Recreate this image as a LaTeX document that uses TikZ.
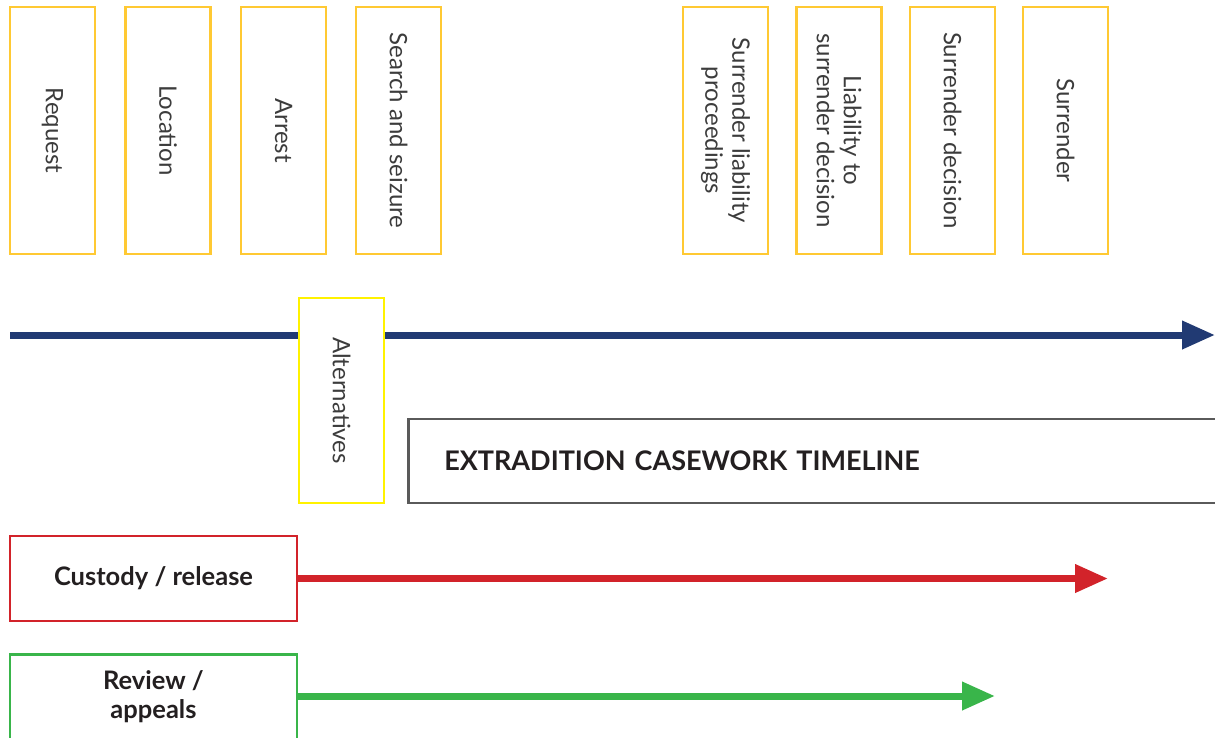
\documentclass[tikz,border=0pt]{standalone}
\usepackage{fontspec}
\setmainfont{Lato}
\usetikzlibrary{arrows.meta}
\usetikzlibrary{positioning}
\definecolor{mgold}{RGB}{255,201,51}
\definecolor{myellow}{RGB}{255,242,0}
\definecolor{mblue}{RGB}{33,58,115}
\definecolor{mred}{RGB}{210,35,42}
\definecolor{mgreen}{RGB}{57,181,74}
\definecolor{mgrey}{RGB}{90,90,90}
\definecolor{mtext}{RGB}{60,60,60}
\definecolor{mink}{RGB}{35,31,32}
\tikzset{stage/.style = {draw = mgold, line width = 2.5pt, rotate = -90, minimum width = 247pt, minimum height = 85pt, inner sep = 0, align = center, text = mtext, font = \fontsize{24}{27}\selectfont}}
\tikzset{track/.style = {draw, line width = 2.5pt, minimum width = 287pt, minimum height = 85pt, align = center, text = mink, font = \bfseries\fontsize{25.5}{29}\selectfont}}
\tikzset{flow/.style = {line width = 7pt, -{Triangle[length = 33pt, width = 27pt]}}}

\begin{document}
\begin{tikzpicture}[x=1pt, y=-1pt]
      \useasboundingbox (0, 0) rectangle (1215, 737);
      \foreach \x/\n/\t in {52.5/req/Request, 168/loc/Location, 283.5/arr/Arrest,
        398.5/srch/Search and seizure, 725.5/slp/{Surrender liability\\proceedings},
        839/lsd/{Liability to\\surrender decision}, 952.5/sdec/Surrender decision,
        1065.5/surr/Surrender} {
        \node [stage] (\n) at (\x, 130.5) {\t};
      }

      \coordinate (tstart) at (10, 335);
      \coordinate (tend) at (1215, 335);
      \draw [flow, mblue] (tstart) -- (tend);
      \node [stage, draw = myellow, fill = white, minimum width = 205pt] (alt) at (341.5, 400.5) {Alternatives};

      \node [draw = mgrey, line width = 2.5pt, anchor = west, minimum height = 84pt, text width = 746pt,
        inner xsep = 36pt, align = left, text = mink, font = \bfseries\fontsize{27}{30}\selectfont]
        (title) at (407, 461) {EXTRADITION CASEWORK TIMELINE};

      \node [track, draw = mred] (cust) at (153.5, 578.5) {Custody / release};
      \coordinate (cend) at (1108, 578.5);
      \draw [flow, mred] (cust.east) -- (cend);

      \node [track, draw = mgreen] (rev) at (153.5, 697) {Review /\\appeals};
      \coordinate (rend) at (995, 696);
      \draw [flow, mgreen] (rev.east |- rend) -- (rend);
    \end{tikzpicture}
\end{document}
